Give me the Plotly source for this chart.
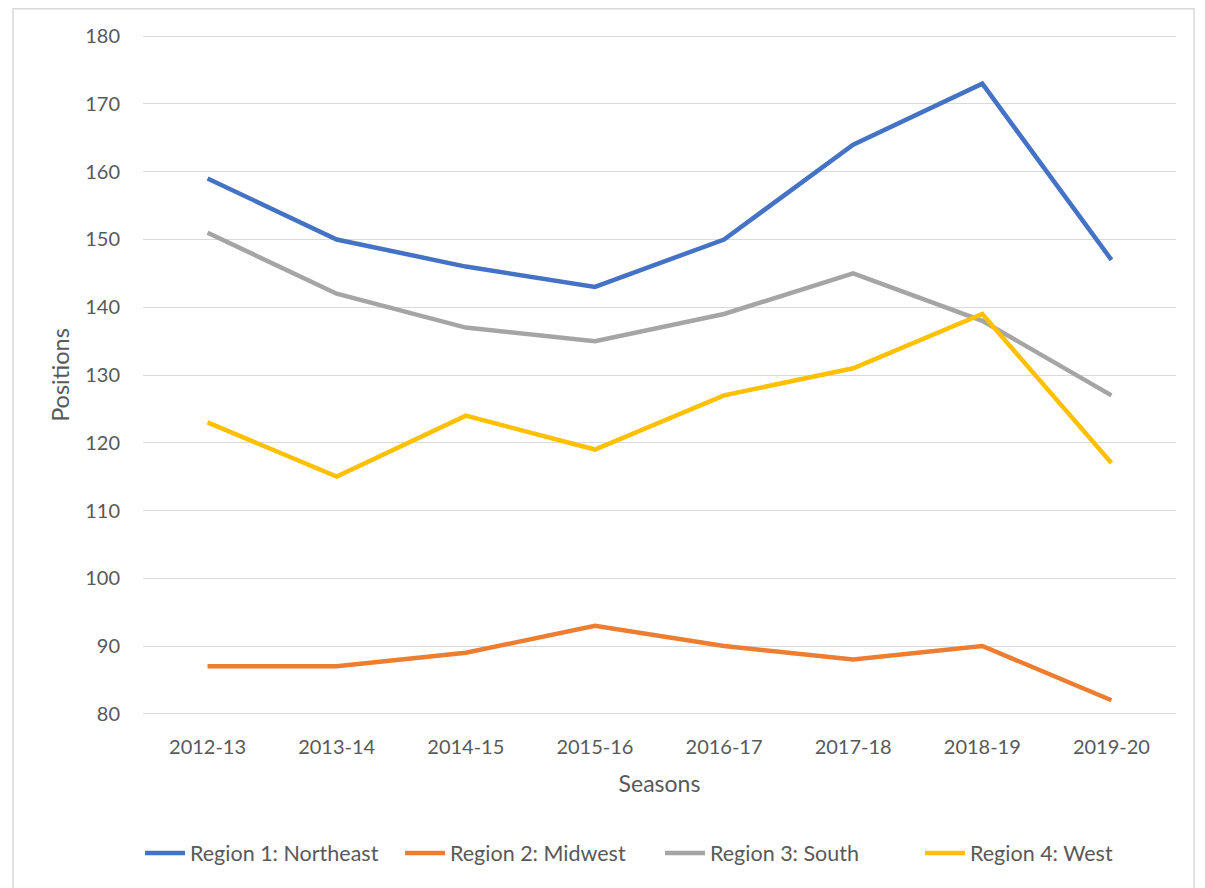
import plotly.graph_objects as go

seasons = ["2012-13", "2013-14", "2014-15", "2015-16", "2016-17", "2017-18", "2018-19", "2019-20"]
northeast = [159, 150, 146, 143, 150, 164, 173, 147]
midwest = [87, 87, 89, 93, 90, 88, 90, 82]
south = [151, 142, 137, 135, 139, 145, 138, 127]
west = [123, 115, 124, 119, 127, 131, 139, 117]

series = [
    ("Region 1: Northeast", northeast, "#4472C4"),
    ("Region 2: Midwest", midwest, "#ED7D31"),
    ("Region 3: South", south, "#A5A5A5"),
    ("Region 4: West", west, "#FFC000"),
]

FONT = "Lato, 'Open Sans', sans-serif"
TXT = "#595959"

fig = go.Figure()
for name, vals, col in series:
    fig.add_trace(go.Scatter(x=seasons, y=vals, name=name, mode="lines",
                             line=dict(color=col, width=4.5)))

fig.update_layout(
    width=1197, height=880,
    margin=dict(l=135, r=29, t=27, b=173),
    paper_bgcolor="white", plot_bgcolor="white",
    font=dict(family=FONT, size=20, color=TXT),
    showlegend=True,
    legend=dict(orientation="h", x=(140 - 143) / 1033, xanchor="left", y=-0.203, yanchor="middle",
                font=dict(size=21.5, color=TXT), itemwidth=40, tracegroupgap=0,
                entrywidth=205, bgcolor="rgba(0,0,0,0)"),
    xaxis=dict(range=[-0.5, 7.5], showgrid=False, showline=False, ticks="", ticklabelstandoff=18,
               tickfont=dict(size=20),
               title=dict(text="Seasons", font=dict(size=23, color=TXT), standoff=18)),
    yaxis=dict(range=[79.82, 180.18], dtick=10, showgrid=True, gridcolor="#D9D9D9", gridwidth=1.3,
               zeroline=False, showline=False, ticks="", ticklabelstandoff=22,
               tickfont=dict(size=20),
               title=dict(text="Positions", font=dict(size=23.5, color=TXT), standoff=8)),
    shapes=[dict(type="rect", xref="paper", yref="paper",
                 x0=(13 - 143) / 1033, x1=(1194 - 143) / 1033,
                 y0=-0.3, y1=1 + (35 - 8.8) / 680,
                 line=dict(color="#D9D9D9", width=1.5), layer="below")],
)

fig.write_html("out.html")
